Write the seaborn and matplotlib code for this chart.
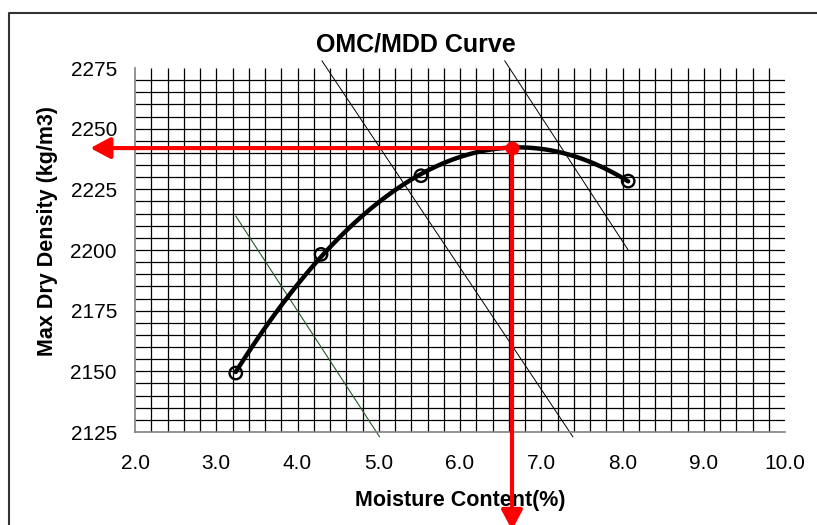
"""
OMC/MDD compaction curve: max dry density vs moisture content
with a quadratic trend, zero air void guide lines and red read-off arrows.
"""

import numpy as np
import matplotlib
matplotlib.use("Agg")
import matplotlib.pyplot as plt
from matplotlib.lines import Line2D
import seaborn as sns

# --- data ---
moisture = [3.24, 4.29, 5.52, 8.07]        # %
dry_density = [2149.3, 2198.2, 2230.6, 2228.4]  # kg/m3

omc = 6.64      # optimum moisture content (%)
mdd = 2242.0    # max dry density (kg/m3)

# thin guide lines (start x, end x) / (start y, end y)
guide_black_1_x = [4.30, 7.39]
guide_black_1_y = [2278, 2123]
guide_black_2_x = [6.55, 8.07]
guide_black_2_y = [2278, 2200]
guide_green_x = [3.24, 5.01]
guide_green_y = [2214, 2123]

x_ticks = [2.0, 3.0, 4.0, 5.0, 6.0, 7.0, 8.0, 9.0, 10.0]
y_ticks = [2125, 2150, 2175, 2200, 2225, 2250, 2275]

W, H = 817, 525

sns.set_style("white")
plt.rcParams["font.family"] = ["Liberation Sans", "DejaVu Sans"]
plt.rcParams["text.color"] = "black"
plt.rcParams["axes.labelcolor"] = "black"

fig = plt.figure(figsize=(W / 100, H / 100), dpi=100)
ax = fig.add_axes([135 / W, 1 - 432 / H, 650 / W, 364 / H])

# graph-paper grid
ax.vlines(np.arange(2.2, 9.81, 0.2), 2125, 2275, color="black", lw=0.9, zorder=1)
ax.hlines(np.arange(2130, 2271, 5), 2.0, 10.0, color="black", lw=0.9, zorder=1)

# guide lines
ax.plot(guide_black_1_x, guide_black_1_y, color="black", lw=0.7, clip_on=False, zorder=2)
ax.plot(guide_black_2_x, guide_black_2_y, color="black", lw=0.7, clip_on=False, zorder=2)
ax.plot(guide_green_x, guide_green_y, color="#245c24", lw=0.8, clip_on=False, zorder=2)

# quadratic trend + points
sns.regplot(x=moisture, y=dry_density, order=2, ci=None, scatter=False,
            truncate=True, line_kws=dict(color="black", lw=3.2, zorder=3), ax=ax)
sns.scatterplot(x=moisture, y=dry_density, marker="o", s=80, color="black",
                facecolor="none", edgecolor="black", linewidth=1.7, zorder=4, ax=ax)

# read-off arrows
arrow_kw = dict(arrowstyle="-|>,head_length=0.6,head_width=0.32", color="red",
                lw=3, mutation_scale=20, shrinkA=0, shrinkB=0)
ax.annotate("", xy=(1.45, mdd), xytext=(omc, mdd), arrowprops=arrow_kw,
            annotation_clip=False, zorder=5)
ax.annotate("", xy=(omc, 2084.6), xytext=(omc, mdd), arrowprops=arrow_kw,
            annotation_clip=False, zorder=5)
sns.scatterplot(x=[omc], y=[mdd], color="red", s=85, edgecolor="red", zorder=6, ax=ax)

ax.set_xlim(2.0, 10.0)
ax.set_ylim(2125, 2275)
ax.set_xticks(x_ticks)
ax.set_xticklabels([f"{v:.1f}" for v in x_ticks])
ax.set_yticks(y_ticks)
ax.set_yticklabels([str(v) for v in y_ticks])
ax.tick_params(axis="both", length=5, width=1, color="#808080", labelsize=15,
               labelcolor="black")
ax.tick_params(axis="y", pad=8)
ax.tick_params(axis="x", pad=11)

for side in ["top", "right"]:
    ax.spines[side].set_visible(False)
for side in ["left", "bottom"]:
    ax.spines[side].set_color("#808080")
    ax.spines[side].set_linewidth(1.2)

ax.set_xlabel("Moisture Content(%)", fontsize=15.5, fontweight="bold", color="black")
ax.xaxis.set_label_coords(0.5, (432 - 490) / 364)
ax.set_ylabel("Max Dry Density (kg/m3)", fontsize=15.5, fontweight="bold", color="black")
ax.yaxis.set_label_coords((58 - 135) / 650, (432 - 231) / 364)

fig.text(416 / W, 1 - 44 / H, "OMC/MDD Curve", fontsize=18, fontweight="bold",
         ha="center", va="center", color="black")

# outer chart frame (left and top edges visible)
fig.add_artist(Line2D([9 / W, 9 / W, 1.0], [0, 1 - 13 / H, 1 - 13 / H],
                      transform=fig.transFigure, color="#333333", lw=1.5))

fig.savefig("out.png", dpi=100)
